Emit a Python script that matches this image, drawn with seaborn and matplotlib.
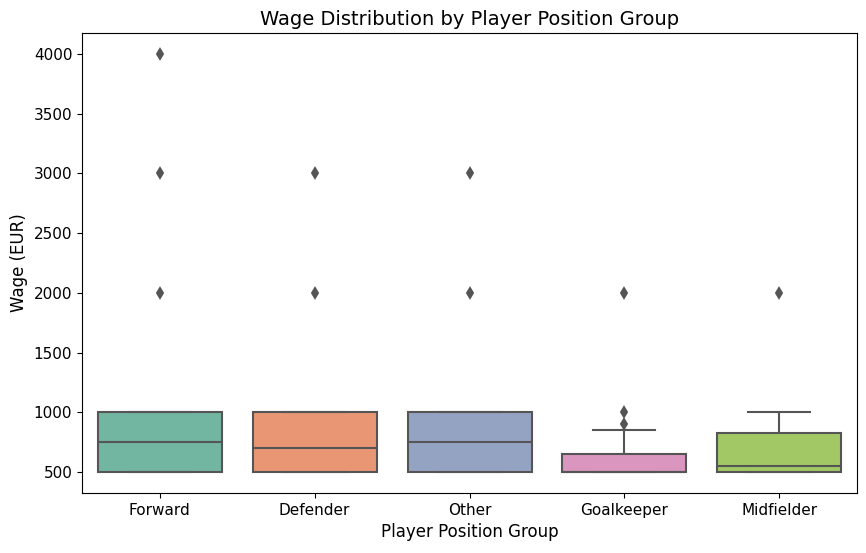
import numpy as np
import pandas as pd
import matplotlib
matplotlib.use('Agg')
import matplotlib.pyplot as plt
import seaborn as sns

# Grupos de posicion (orden como en el grafico)
grupos = ['Forward', 'Defender', 'Other', 'Goalkeeper', 'Midfielder']

# Tabla de frecuencias de salarios por grupo (valor, cantidad)
forward_salarios = [500, 750, 1000, 2000, 3000, 4000]
forward_cuentas = [6, 3, 4, 1, 1, 1]

defender_salarios = [500, 700, 1000, 2000, 3000]
defender_cuentas = [6, 3, 4, 1, 1]

other_salarios = [500, 750, 1000, 2000, 3000]
other_cuentas = [6, 3, 4, 1, 1]

goalkeeper_salarios = [500, 650, 850, 900, 1000, 2000]
goalkeeper_cuentas = [9, 4, 1, 1, 1, 1]

midfielder_salarios = [500, 550, 650, 825, 1000, 2000]
midfielder_cuentas = [4, 2, 1, 2, 1, 1]

tablas = {
    'Forward': (forward_salarios, forward_cuentas),
    'Defender': (defender_salarios, defender_cuentas),
    'Other': (other_salarios, other_cuentas),
    'Goalkeeper': (goalkeeper_salarios, goalkeeper_cuentas),
    'Midfielder': (midfielder_salarios, midfielder_cuentas),
}

filas = []
for g in grupos:
    vals, cnts = tablas[g]
    for v in np.repeat(vals, cnts):
        filas.append({'Position Group': g, 'Wage': v})
df = pd.DataFrame(filas)

fig = plt.figure(figsize=(8.66, 5.53), dpi=100)
ax = fig.add_axes([0.0947, 0.1085, 0.8949, 0.8318])

sns.boxplot(data=df, x='Position Group', y='Wage', hue='Position Group',
            order=grupos, palette='Set2', legend=False, ax=ax,
            linecolor='#555555', linewidth=1.5, width=0.8,
            flierprops=dict(marker='d', markerfacecolor='#555555',
                            markeredgecolor='#555555', markersize=5,
                            markeredgewidth=1.4))

ax.set_title('Wage Distribution by Player Position Group', fontsize=14)
ax.set_xlabel('Player Position Group', fontsize=12)
ax.set_ylabel('Wage (EUR)', fontsize=12)
ax.tick_params(axis='both', labelsize=11)

fig.savefig('out.png', dpi=100)
